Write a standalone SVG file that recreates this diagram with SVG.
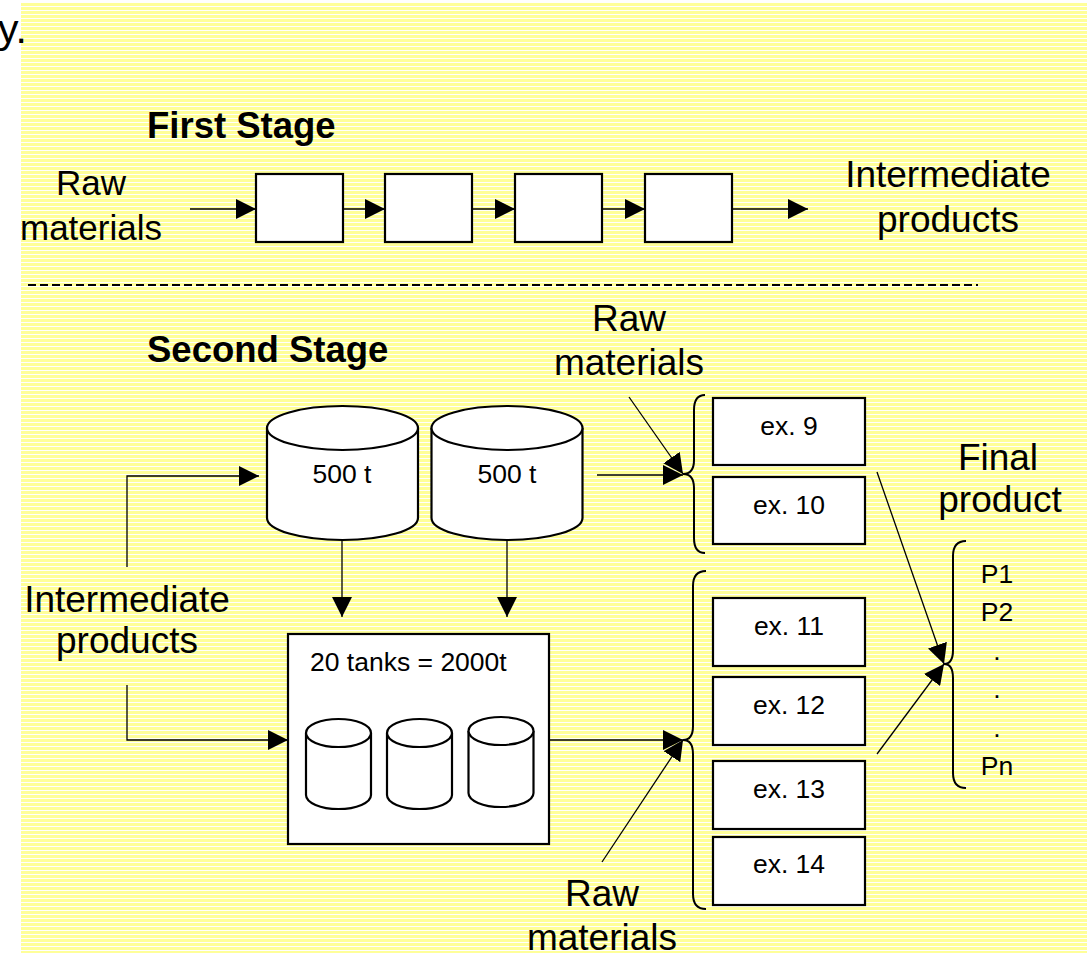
<svg xmlns="http://www.w3.org/2000/svg" width="1087" height="953" viewBox="0 0 1087 953">
  <style>
    .lbl { font-family: "Liberation Sans", Arial, sans-serif; font-size: 37px; fill: #000; }
    .head { font-family: "Liberation Sans", Arial, sans-serif; font-size: 36.5px; font-weight: bold; fill: #000; }
    .sm { font-family: "Liberation Sans", Arial, sans-serif; font-size: 26.5px; fill: #000; }
    .box { fill: #fff; stroke: #000; stroke-width: 2.2; }
    .tank { fill: #fff; stroke: #000; stroke-width: 2.2; }
    .flow { fill: none; stroke: #000; stroke-width: 1.3; marker-end: url(#arrow); }
    .brace { fill: none; stroke: #000; stroke-width: 2; }
  </style>
  <defs>
    <pattern id="stripes" x="0" y="3" width="8" height="4" patternUnits="userSpaceOnUse">
      <rect x="0" y="0" width="8" height="3" fill="#ffff99"/>
      <rect x="0" y="3" width="8" height="1" fill="#ffffff"/>
    </pattern>
    <marker id="arrow" viewBox="0 0 20 20" refX="20" refY="10" markerWidth="20" markerHeight="20" markerUnits="userSpaceOnUse" orient="auto">
      <path d="M0,0 L20,10 L0,20 Z" fill="#000"/>
    </marker>
  </defs>

  <!-- page background -->
  <rect x="0" y="0" width="1087" height="953" fill="#fff"/>
  <rect x="21" y="3" width="1066" height="950" fill="url(#stripes)"/>
  <text class="lbl" x="-2" y="43" style="font-size:41px">y.</text>

  <!-- first stage -->
  <text class="head" x="147" y="138">First Stage</text>
  <g id="raw-in-1">
    <text class="lbl" x="91" y="195" text-anchor="middle" style="font-size:35px">Raw</text>
    <text class="lbl" x="91" y="240" text-anchor="middle" style="font-size:35px">materials</text>
  </g>
  <g id="step1"><rect class="box" x="256" y="174" width="87" height="68"/></g>
  <g id="step2"><rect class="box" x="385" y="174" width="87" height="68"/></g>
  <g id="step3"><rect class="box" x="515" y="174" width="87" height="68"/></g>
  <g id="step4"><rect class="box" x="645" y="174" width="87" height="68"/></g>
  <g id="intermediate-out">
    <text class="lbl" x="948" y="187" text-anchor="middle">Intermediate</text>
    <text class="lbl" x="948" y="232" text-anchor="middle">products</text>
  </g>

  <!-- stage divider -->
  <line x1="28" y1="285" x2="978" y2="285" stroke="#000" stroke-width="2" stroke-dasharray="8 4"/>

  <!-- second stage -->
  <text class="head" x="147" y="362">Second Stage</text>
  <g id="raw-in-2">
    <text class="lbl" x="629" y="331" text-anchor="middle">Raw</text>
    <text class="lbl" x="629" y="375" text-anchor="middle">materials</text>
  </g>
  <g id="raw-in-3">
    <text class="lbl" x="602" y="906" text-anchor="middle">Raw</text>
    <text class="lbl" x="602" y="950" text-anchor="middle">materials</text>
  </g>
  <g id="intermediate-in">
    <text class="lbl" x="127" y="612" text-anchor="middle">Intermediate</text>
    <text class="lbl" x="127" y="653" text-anchor="middle">products</text>
  </g>

  <g id="tank-a">
    <path class="tank" d="M267,428 V518 A75.5,22 0 0 0 418,518 V428"/>
    <ellipse class="tank" cx="342.5" cy="428" rx="75.5" ry="22"/>
    <text class="sm" x="342" y="483" text-anchor="middle">500 t</text>
  </g>
  <g id="tank-b">
    <path class="tank" d="M431.5,428 V518 A75.5,22 0 0 0 582.5,518 V428"/>
    <ellipse class="tank" cx="507" cy="428" rx="75.5" ry="22"/>
    <text class="sm" x="507" y="483" text-anchor="middle">500 t</text>
  </g>

  <g id="tank-farm">
    <rect class="box" x="288" y="634" width="261" height="210"/>
    <text class="sm" x="310" y="671">20 tanks = 2000t</text>
    <path class="tank" d="M306,733 V795 A32.5,14 0 0 0 371,795 V733"/>
    <ellipse class="tank" cx="338.5" cy="733" rx="32.5" ry="14"/>
    <path class="tank" d="M387,733 V795 A32.5,14 0 0 0 452,795 V733"/>
    <ellipse class="tank" cx="419.5" cy="733" rx="32.5" ry="14"/>
    <path class="tank" d="M468.5,731 V793 A32.5,14 0 0 0 533.5,793 V731"/>
    <ellipse class="tank" cx="501" cy="731" rx="32.5" ry="14"/>
  </g>

  <g id="ex9"><rect class="box" x="713" y="398" width="152" height="67"/><text class="sm" x="789" y="435" text-anchor="middle">ex. 9</text></g>
  <g id="ex10"><rect class="box" x="713" y="477" width="152" height="67"/><text class="sm" x="789" y="514" text-anchor="middle">ex. 10</text></g>
  <g id="ex11"><rect class="box" x="713" y="598" width="152" height="68"/><text class="sm" x="789" y="635" text-anchor="middle">ex. 11</text></g>
  <g id="ex12"><rect class="box" x="713" y="677" width="152" height="68"/><text class="sm" x="789" y="714" text-anchor="middle">ex. 12</text></g>
  <g id="ex13"><rect class="box" x="713" y="761" width="152" height="68"/><text class="sm" x="789" y="798" text-anchor="middle">ex. 13</text></g>
  <g id="ex14"><rect class="box" x="713" y="837" width="152" height="68"/><text class="sm" x="789" y="873" text-anchor="middle">ex. 14</text></g>

  <g id="final-product">
    <text class="lbl" x="998" y="470" text-anchor="middle">Final</text>
    <text class="lbl" x="1000" y="512" text-anchor="middle">product</text>
    <text class="sm" x="997" y="583" text-anchor="middle">P1</text>
    <text class="sm" x="997" y="621" text-anchor="middle">P2</text>
    <text class="sm" x="997" y="660" text-anchor="middle">.</text>
    <text class="sm" x="997" y="698" text-anchor="middle">.</text>
    <text class="sm" x="997" y="737" text-anchor="middle">.</text>
    <text class="sm" x="997" y="775" text-anchor="middle">Pn</text>
  </g>

  <!-- braces -->
  <g id="braces">
    <path class="brace" d="M705,395 C698,395 694,400 694,410 L694,460 C694,470 690,474 683,474 C690,474 694,478 694,488 L694,538 C694,548 698,553 705,553"/>
    <path class="brace" d="M706,571 C698,571 693,576 693,586 L693,726 C693,736 689,740 683,740 C689,740 693,744 693,754 L693,894 C693,904 698,909 706,909"/>
    <path class="brace" d="M966,541 C958,541 953,546 953,556 L953,650 C953,660 950,664 944,664 C950,664 953,668 953,678 L953,773 C953,783 958,788 966,788"/>
  </g>

  <!-- connectors -->
  <g id="connectors">
    <path class="flow" d="M190,209 H256"/>
    <path class="flow" d="M343,209 H385"/>
    <path class="flow" d="M472,209 H515"/>
    <path class="flow" d="M602,209 H645"/>
    <path class="flow" d="M732,209 H808"/>
    <path class="flow" d="M127,567 V476 H259"/>
    <path class="flow" d="M127,685 V740 H288"/>
    <path class="flow" d="M342,540 V617"/>
    <path class="flow" d="M507,540 V617"/>
    <path class="flow" d="M597,475 H683"/>
    <path class="flow" d="M629,397 L683,474"/>
    <path class="flow" d="M549,740 H683"/>
    <path class="flow" d="M602,862 L683,740"/>
    <path class="flow" d="M877,472 L944,664"/>
    <path class="flow" d="M877,754 L944,664"/>
  </g>
</svg>
